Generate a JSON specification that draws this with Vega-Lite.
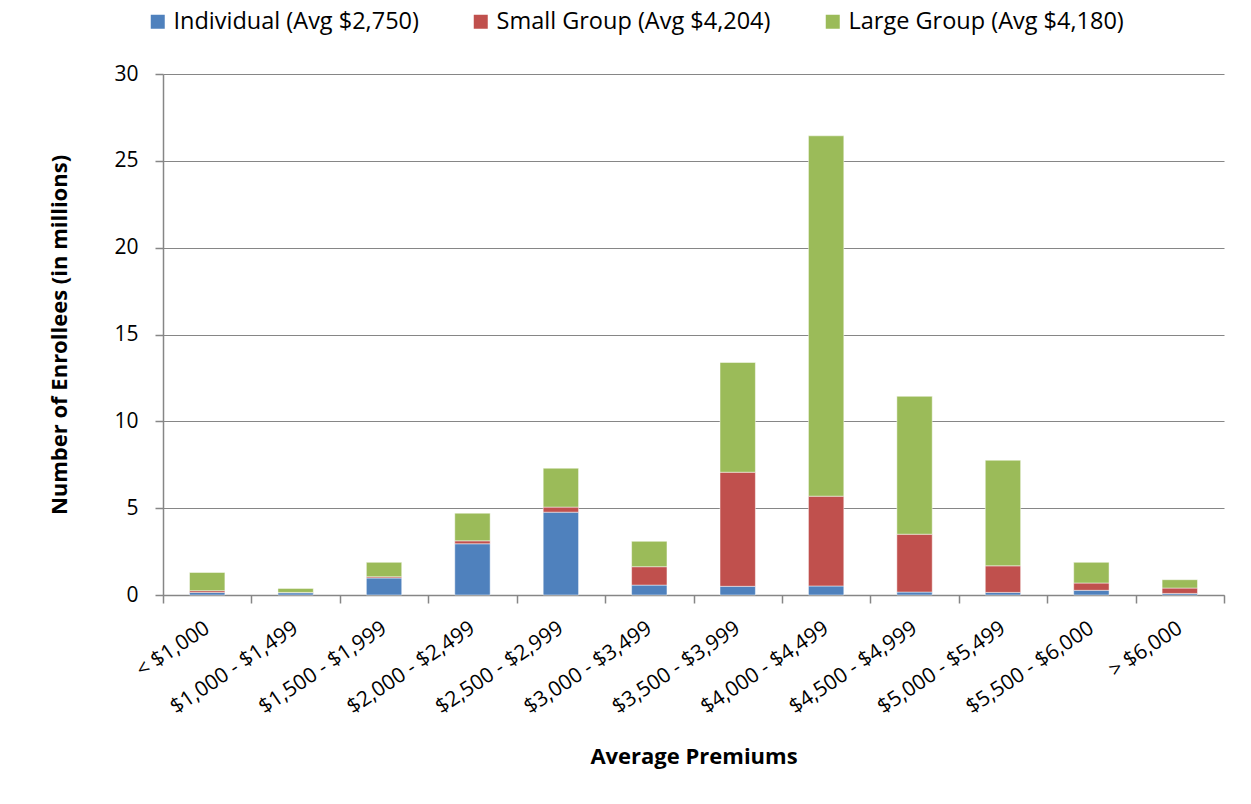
{
  "$schema": "https://vega.github.io/schema/vega-lite/v6.json",
  "width": 1061,
  "height": 521,
  "autosize": {"type": "none"},
  "padding": {"left": 163, "top": 74, "right": 27, "bottom": 209},
  "background": "white",
  "data": {"values": [
    {"range": "< $1,000", "series": "Individual (Avg $2,750)", "k": 1, "value": 0.15},
    {"range": "< $1,000", "series": "Small Group (Avg $4,204)", "k": 2, "value": 0.1},
    {"range": "< $1,000", "series": "Large Group (Avg $4,180)", "k": 3, "value": 1.05},
    {"range": "$1,000 - $1,499", "series": "Individual (Avg $2,750)", "k": 1, "value": 0.13},
    {"range": "$1,000 - $1,499", "series": "Small Group (Avg $4,204)", "k": 2, "value": 0.02},
    {"range": "$1,000 - $1,499", "series": "Large Group (Avg $4,180)", "k": 3, "value": 0.23},
    {"range": "$1,500 - $1,999", "series": "Individual (Avg $2,750)", "k": 1, "value": 0.98},
    {"range": "$1,500 - $1,999", "series": "Small Group (Avg $4,204)", "k": 2, "value": 0.07},
    {"range": "$1,500 - $1,999", "series": "Large Group (Avg $4,180)", "k": 3, "value": 0.83},
    {"range": "$2,000 - $2,499", "series": "Individual (Avg $2,750)", "k": 1, "value": 2.95},
    {"range": "$2,000 - $2,499", "series": "Small Group (Avg $4,204)", "k": 2, "value": 0.17},
    {"range": "$2,000 - $2,499", "series": "Large Group (Avg $4,180)", "k": 3, "value": 1.59},
    {"range": "$2,500 - $2,999", "series": "Individual (Avg $2,750)", "k": 1, "value": 4.77},
    {"range": "$2,500 - $2,999", "series": "Small Group (Avg $4,204)", "k": 2, "value": 0.29},
    {"range": "$2,500 - $2,999", "series": "Large Group (Avg $4,180)", "k": 3, "value": 2.24},
    {"range": "$3,000 - $3,499", "series": "Individual (Avg $2,750)", "k": 1, "value": 0.57},
    {"range": "$3,000 - $3,499", "series": "Small Group (Avg $4,204)", "k": 2, "value": 1.06},
    {"range": "$3,000 - $3,499", "series": "Large Group (Avg $4,180)", "k": 3, "value": 1.46},
    {"range": "$3,500 - $3,999", "series": "Individual (Avg $2,750)", "k": 1, "value": 0.5},
    {"range": "$3,500 - $3,999", "series": "Small Group (Avg $4,204)", "k": 2, "value": 6.57},
    {"range": "$3,500 - $3,999", "series": "Large Group (Avg $4,180)", "k": 3, "value": 6.32},
    {"range": "$4,000 - $4,499", "series": "Individual (Avg $2,750)", "k": 1, "value": 0.52},
    {"range": "$4,000 - $4,499", "series": "Small Group (Avg $4,204)", "k": 2, "value": 5.17},
    {"range": "$4,000 - $4,499", "series": "Large Group (Avg $4,180)", "k": 3, "value": 20.75},
    {"range": "$4,500 - $4,999", "series": "Individual (Avg $2,750)", "k": 1, "value": 0.17},
    {"range": "$4,500 - $4,999", "series": "Small Group (Avg $4,204)", "k": 2, "value": 3.33},
    {"range": "$4,500 - $4,999", "series": "Large Group (Avg $4,180)", "k": 3, "value": 7.94},
    {"range": "$5,000 - $5,499", "series": "Individual (Avg $2,750)", "k": 1, "value": 0.15},
    {"range": "$5,000 - $5,499", "series": "Small Group (Avg $4,204)", "k": 2, "value": 1.53},
    {"range": "$5,000 - $5,499", "series": "Large Group (Avg $4,180)", "k": 3, "value": 6.08},
    {"range": "$5,500 - $6,000", "series": "Individual (Avg $2,750)", "k": 1, "value": 0.27},
    {"range": "$5,500 - $6,000", "series": "Small Group (Avg $4,204)", "k": 2, "value": 0.42},
    {"range": "$5,500 - $6,000", "series": "Large Group (Avg $4,180)", "k": 3, "value": 1.19},
    {"range": "> $6,000", "series": "Individual (Avg $2,750)", "k": 1, "value": 0.09},
    {"range": "> $6,000", "series": "Small Group (Avg $4,204)", "k": 2, "value": 0.31},
    {"range": "> $6,000", "series": "Large Group (Avg $4,180)", "k": 3, "value": 0.48}
  ]},
  "mark": {"type": "bar", "width": {"band": 0.4}, "stroke": "#ffffff", "strokeWidth": 0.8, "strokeOpacity": 0.6},
  "encoding": {
    "x": {
      "field": "range", "type": "nominal", "sort": null,
      "scale": {"paddingInner": 0, "paddingOuter": 0},
      "axis": {
        "title": "Average Premiums",
        "titleFont": "Open Sans", "titleFontSize": 22, "titleFontWeight": "bold", "titleColor": "#000000",
        "titlePadding": 29,
        "labelFont": "Open Sans", "labelFontSize": 21, "labelColor": "#000000",
        "labelAngle": -34, "labelBaseline": "middle", "labelAlign": "right", "labelPadding": 23,
        "ticks": true, "tickBand": "extent", "tickSize": 8, "tickColor": "#868686", "domainColor": "#868686",
        "tickWidth": 1.5, "domainWidth": 1.5, "grid": false
      }
    },
    "y": {
      "field": "value", "type": "quantitative", "aggregate": "sum", "stack": "zero",
      "scale": {"domain": [0, 30]},
      "axis": {
        "title": "Number of Enrollees (in millions)",
        "titleFont": "Open Sans", "titleFontSize": 22, "titleFontWeight": "bold", "titleColor": "#000000",
        "titlePadding": 42,
        "labelFont": "Open Sans", "labelFontSize": 21, "labelColor": "#000000", "labelPadding": 17,
        "values": [0, 5, 10, 15, 20, 25, 30],
        "tickSize": 8, "tickColor": "#868686", "domainColor": "#868686",
        "gridColor": "#868686", "gridWidth": 1.2, "tickWidth": 1.5, "domainWidth": 1.5
      }
    },
    "color": {
      "field": "series", "type": "nominal",
      "scale": {
        "domain": ["Individual (Avg $2,750)", "Small Group (Avg $4,204)", "Large Group (Avg $4,180)"],
        "range": ["#4F81BD", "#C0504D", "#9BBB59"]
      },
      "legend": {
        "title": null, "orient": "none", "direction": "horizontal", "columns": 3,
        "legendX": -17, "legendY": -64,
        "symbolType": "square", "symbolSize": 196, "symbolStrokeWidth": 0,
        "labelFont": "Open Sans", "labelFontSize": 23.5, "labelColor": "#000000",
        "labelOffset": 4, "columnPadding": 50, "gridAlign": "none", "labelLimit": 400
      }
    },
    "order": {"field": "k", "type": "quantitative"}
  },
  "config": {"view": {"stroke": null}}
}
